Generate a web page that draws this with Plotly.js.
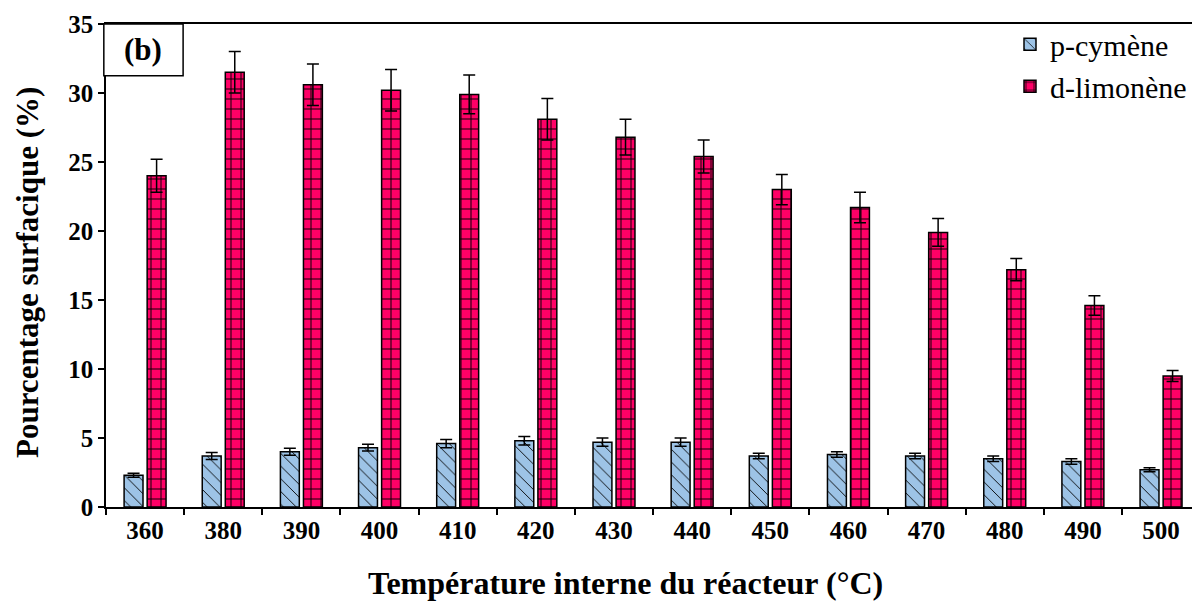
<!DOCTYPE html>
<html>
<head>
<meta charset="utf-8">
<script src="https://cdn.plot.ly/plotly-3.0.1.min.js"></script>
<style>html,body{margin:0;padding:0;background:#fff;}#chart{width:1192px;height:601px;}</style>
</head>
<body>
<div id="chart"></div>
<script>
const categories = ["360","380","390","400","410","420","430","440","450","460","470","480","490","500"];
const pCymene = [2.3, 3.7, 4.0, 4.3, 4.6, 4.8, 4.7, 4.7, 3.7, 3.8, 3.7, 3.5, 3.3, 2.7];
const pCymeneErr = [0.15, 0.25, 0.25, 0.25, 0.3, 0.3, 0.3, 0.3, 0.2, 0.2, 0.2, 0.2, 0.2, 0.15];
const dLimonene = [24.0, 31.5, 30.6, 30.2, 29.9, 28.1, 26.8, 25.4, 23.0, 21.7, 19.9, 17.2, 14.6, 9.5];
const dLimoneneErr = [1.2, 1.5, 1.5, 1.5, 1.4, 1.5, 1.3, 1.2, 1.1, 1.1, 1.0, 0.8, 0.7, 0.4];
const xTitle = "Température interne du réacteur (°C)";
const yTitle = "Pourcentage surfacique (%)";
const panelLabel = "(b)";

const serif = "Liberation Serif";

const traces = [
  {
    type: "bar", name: "p-cymène", x: categories, y: pCymene,
    marker: {color: "#9DC3E6", line: {color: "#000", width: 1.5},
      pattern: {shape: "\\", fgcolor: "#000", bgcolor: "#9DC3E6", size: 9, solidity: 0.1}},
    error_y: {type: "data", array: pCymeneErr, visible: true, color: "#000", thickness: 1.5, width: 6}
  },
  {
    type: "bar", name: "d-limonène", x: categories, y: dLimonene,
    marker: {color: "#FF0066", line: {color: "#000", width: 1.5},
      pattern: {shape: "+", fgcolor: "#000", bgcolor: "#FF0066", size: 10, solidity: 0.18}},
    error_y: {type: "data", array: dLimoneneErr, visible: true, color: "#000", thickness: 1.5, width: 6}
  }
];

const layout = {
  width: 1192, height: 601,
  margin: {l: 106, r: 0, t: 24, b: 94},
  paper_bgcolor: "#fff", plot_bgcolor: "#fff",
  barmode: "group", bargap: 0.41, bargroupgap: 0.18,
  font: {family: serif, color: "#000"},
  showlegend: true,
  legend: {x: 1, xanchor: "right", y: 1.012, yanchor: "top", font: {family: serif, size: 30, color: "#000"},
    bgcolor: "rgba(0,0,0,0)", itemwidth: 30, tracegroupgap: 0},
  xaxis: {
    type: "category", range: [-0.5, 13.396], tickson: "boundaries",
    showline: true, linecolor: "#000", linewidth: 1.5, mirror: true,
    ticks: "outside", ticklen: 6, tickcolor: "#000", tickwidth: 1.5,
    showgrid: false, zeroline: false,
    tickfont: {family: serif, size: 25, color: "#000", weight: "bold"}
  },
  yaxis: {
    range: [0, 35], dtick: 5, showline: true, linecolor: "#000", linewidth: 1.5,
    ticks: "outside", ticklen: 6, tickcolor: "#000", tickwidth: 1.5,
    showgrid: false, zeroline: false,
    tickfont: {family: serif, size: 25, color: "#000", weight: "bold"}
  },
  shapes: [
    {type: "rect", xref: "paper", yref: "paper", x0: -0.002, x1: 0.071, y0: 0.893, y1: 1,
     line: {color: "#000", width: 1.5}, fillcolor: "#fff"}
  ],
  annotations: [
    {xref: "paper", yref: "paper", x: 0.0345, y: 0.947, xanchor: "center", yanchor: "middle",
     text: "<b>" + panelLabel + "</b>", showarrow: false, font: {family: serif, size: 31, color: "#000"}},
    {xref: "paper", yref: "paper", x: 0.478, y: -0.158, xanchor: "center", yanchor: "middle",
     text: "<b>" + xTitle + "</b>", showarrow: false, font: {family: serif, size: 32, color: "#000"}},
    {xref: "paper", yref: "paper", x: -0.0725, y: 0.485, xanchor: "center", yanchor: "middle", textangle: -90,
     text: "<b>" + yTitle + "</b>", showarrow: false, font: {family: serif, size: 31, color: "#000"}}
  ]
};

Plotly.newPlot("chart", traces, layout, {displayModeBar: false});
</script>
</body>
</html>
